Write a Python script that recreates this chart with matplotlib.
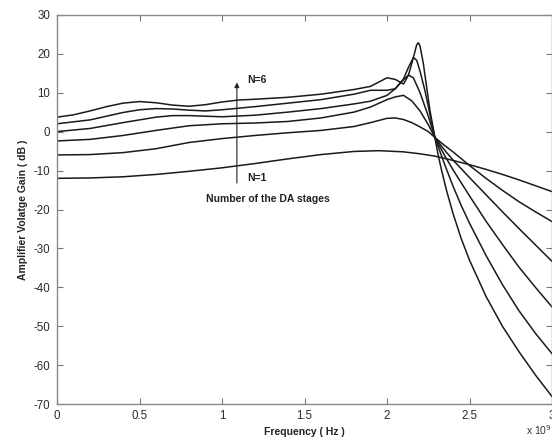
import matplotlib
matplotlib.use("Agg")
import matplotlib.pyplot as plt

plt.rcParams['font.family'] = ['Liberation Sans', 'DejaVu Sans']
plt.rcParams['axes.unicode_minus'] = False

# Frequency in units of 1e9 Hz, gain in dB
x1 = [0, 0.2, 0.4, 0.6, 0.8, 1.0, 1.2, 1.4, 1.6, 1.8, 1.95, 2.1, 2.2, 2.29, 2.4, 2.5, 2.6, 2.7, 2.8, 2.9, 3.0]
g1 = [-12.0, -11.9, -11.6, -11.0, -10.2, -9.3, -8.2, -7.0, -5.9, -5.1, -4.9, -5.2, -5.7, -6.3, -7.4, -8.5, -9.7, -11.0, -12.4, -13.9, -15.4]

x2 = [0, 0.2, 0.4, 0.6, 0.8, 1.0, 1.2, 1.4, 1.6, 1.8, 1.9, 2.0, 2.05, 2.1, 2.15, 2.2, 2.25, 2.29, 2.35, 2.4, 2.5, 2.6, 2.7, 2.8, 2.9, 3.0]
g2 = [-6.0, -5.9, -5.4, -4.4, -2.8, -1.8, -1.0, -0.3, 0.3, 1.3, 2.3, 3.4, 3.5, 3.1, 2.3, 1.2, 0.0, -1.5, -3.6, -5.2, -8.7, -12.0, -15.1, -18.0, -20.6, -23.1]

x3 = [0, 0.2, 0.4, 0.6, 0.8, 1.0, 1.2, 1.4, 1.6, 1.8, 1.9, 2.0, 2.05, 2.1, 2.15, 2.2, 2.25, 2.29, 2.35, 2.4, 2.5, 2.6, 2.7, 2.8, 2.9, 3.0]
g3 = [-2.4, -2.0, -1.0, 0.3, 1.5, 2.0, 2.2, 2.6, 3.5, 5.0, 6.3, 8.2, 8.9, 9.3, 7.9, 5.3, 1.8, -1.5, -4.8, -7.3, -11.8, -16.2, -20.6, -24.9, -29.1, -33.3]

x4 = [0, 0.2, 0.4, 0.6, 0.7, 0.8, 1.0, 1.2, 1.4, 1.6, 1.8, 1.9, 2.0, 2.05, 2.1, 2.13, 2.16, 2.2, 2.25, 2.29, 2.35, 2.4, 2.5, 2.6, 2.7, 2.8, 2.9, 3.0]
g4 = [0.0, 0.8, 2.3, 3.7, 4.1, 4.1, 3.8, 4.2, 5.0, 5.9, 7.1, 7.8, 9.3, 11.0, 13.3, 14.5, 13.8, 10.0, 4.0, -1.5, -6.2, -9.8, -16.5, -23.0, -29.0, -34.8, -40.0, -45.0]

x5 = [0, 0.2, 0.4, 0.5, 0.6, 0.7, 0.8, 0.9, 1.0, 1.2, 1.4, 1.6, 1.8, 1.9, 2.0, 2.05, 2.1, 2.13, 2.16, 2.18, 2.2, 2.23, 2.26, 2.29, 2.35, 2.4, 2.45, 2.5, 2.6, 2.7, 2.8, 2.9, 3.0]
g5 = [2.0, 3.0, 4.9, 5.6, 5.9, 5.8, 5.5, 5.3, 5.6, 6.4, 7.3, 8.2, 9.6, 10.6, 10.6, 11.0, 13.5, 16.5, 19.0, 18.3, 15.5, 10.5, 4.5, -1.5, -8.5, -14.0, -19.0, -23.5, -31.8, -39.3, -46.0, -51.8, -57.0]

x6 = [0, 0.1, 0.2, 0.3, 0.4, 0.5, 0.6, 0.7, 0.8, 0.9, 1.0, 1.1, 1.2, 1.4, 1.6, 1.8, 1.9, 1.95, 2.0, 2.05, 2.1, 2.13, 2.16, 2.18, 2.19, 2.2, 2.22, 2.24, 2.26, 2.29, 2.31, 2.33, 2.36, 2.4, 2.45, 2.5, 2.6, 2.7, 2.8, 2.9, 3.0]
g6 = [3.7, 4.3, 5.3, 6.4, 7.3, 7.7, 7.4, 6.8, 6.5, 6.9, 7.6, 8.1, 8.3, 8.8, 9.6, 10.8, 11.6, 12.7, 13.8, 13.4, 12.2, 14.5, 19.0, 22.3, 22.8, 22.0, 17.5, 11.5, 5.5, -1.5, -6.0, -9.8, -15.0, -21.0, -27.5, -33.0, -42.3, -50.0, -56.5, -62.5, -68.0]

xs = [x1, x2, x3, x4, x5, x6]
gs = [g1, g2, g3, g4, g5, g6]

xticks = [0, 0.5, 1, 1.5, 2, 2.5, 3]
xticklabels = ['0', '0.5', '1', '1.5', '2', '2.5', '3']
yticks = [-70, -60, -50, -40, -30, -20, -10, 0, 10, 20, 30]

fig = plt.figure(figsize=(5.52, 4.40), dpi=100)
ax = fig.add_axes([0.1033, 0.0811, 0.8967, 0.8855])

for xv, gv in zip(xs, gs):
    ax.plot(xv, gv, color='#1a1a1a', linewidth=1.1, solid_joinstyle='round')

ax.set_xlim(0, 3)
ax.set_ylim(-70, 30)
ax.set_xticks(xticks)
ax.set_xticklabels(xticklabels)
ax.set_yticks(yticks)
ax.tick_params(direction='in', length=4, width=0.8, color='#777777',
               top=True, right=True, labelsize=8.3, labelcolor='#2a2a2a')
ax.tick_params(axis='y', pad=5)
ax.tick_params(axis='x', pad=4)
for s in ax.spines.values():
    s.set_color('#8a8a8a')
    s.set_linewidth(1.0)

ax.set_xlabel('Frequency ( Hz )', fontsize=7.5, fontweight='bold', color='#222222')
ax.set_ylabel('Amplifier Volatge Gain ( dB )', fontsize=7.5, fontweight='bold', color='#222222')
ax.xaxis.set_label_coords(0.5, -0.057)
ax.yaxis.set_label_coords(-0.058, 0.5)

# arrow and annotations
ax.annotate('', xy=(1.09, 12.6), xytext=(1.09, -13.2),
            arrowprops=dict(arrowstyle='-|>', color='#222222', lw=0.8,
                            mutation_scale=7, shrinkA=0, shrinkB=0))
ax.text(1.155, 13.2, 'N=6', fontsize=7.5, fontweight='bold', color='#222222', va='center', ha='left')
ax.text(1.15, -12.0, 'N=1', fontsize=7.5, fontweight='bold', color='#222222', va='center', ha='left')
ax.text(1.28, -17.3, 'Number of the DA stages', fontsize=7.5, fontweight='bold', color='#222222',
        va='center', ha='center')

fig.text(0.953, 0.006, r'x 10$^{9}$', fontsize=7.5, color='#333333', ha='left', va='bottom')

fig.savefig('out.png', dpi=100, facecolor='white')
